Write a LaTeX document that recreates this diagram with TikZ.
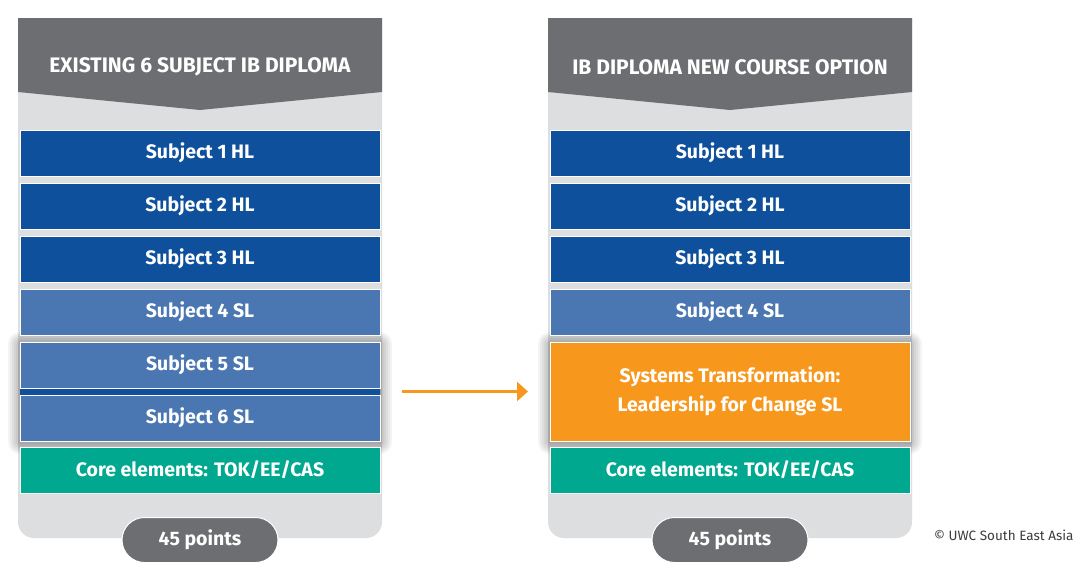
\documentclass[tikz,border=0pt]{standalone}
\usepackage{fontspec}
\setmainfont{Fira Sans}
\usetikzlibrary{positioning,arrows.meta}

\definecolor{hdrgrey}{RGB}{109,110,113}
\definecolor{panelgrey}{RGB}{221,222,224}
\definecolor{ibdark}{RGB}{14,80,155}
\definecolor{iblight}{RGB}{74,118,178}
\definecolor{coreteal}{RGB}{0,168,143}
\definecolor{newcourse}{RGB}{247,152,29}
\definecolor{creditgrey}{RGB}{60,60,60}

\tikzset{
  subj/.style={minimum width=360, minimum height=46, inner sep=0, outer sep=0, text=white,
    draw=white, line width=.8pt, font=\fontsize{19.5}{22}\selectfont\bfseries},
  hl/.style={subj, fill=ibdark},
  sl/.style={subj, fill=iblight},
  core/.style={subj, fill=coreteal},
  headtext/.style={text=white, font=\fontsize{21}{25}\selectfont\bfseries},
  pill/.style={minimum width=156, minimum height=45, rounded corners=22.5,
    fill=hdrgrey, draw=white, line width=1pt, text=white, font=\fontsize{19.5}{22}\selectfont\bfseries},
  flow/.style={draw=newcourse, line width=2.6pt, -{Triangle[length=11pt,width=19pt]}}
}

\begin{document}
\begin{tikzpicture}[x=1pt,y=-1pt]
\useasboundingbox (0,0) rectangle (1087,574);
\fill[white] (0,0) rectangle (1087,574);

% panels and headers
\foreach \cx in {200,730}{
  \fill[panelgrey] (\cx-182,100) -- (\cx-182,18) -- (\cx+182,18) -- (\cx+182,100)
    [rounded corners=16] -- (\cx+182,538) -- (\cx-182,538) [sharp corners] -- (\cx-182,100) -- cycle;
  \fill[hdrgrey] (\cx-182,18) -- (\cx+182,18) -- (\cx+182,92) -- (\cx,110) -- (\cx-182,92) -- cycle;
  % soft shadow round the swapped block
  \foreach \r in {2,4,...,12}
    \fill[black,opacity=.045,rounded corners=\r] (\cx-180-\r,342-\r+2) rectangle (\cx+180+\r,441+\r+1);
}

\node[headtext] (lhead) at (200,67) {EXISTING 6 SUBJECT IB DIPLOMA};
\node[headtext] (rhead) at (730,67) {IB DIPLOMA NEW COURSE OPTION};

% existing diploma
\node[hl] (l1) at (200,153) {Subject 1 HL};
\node[hl, below=7pt of l1] (l2) {Subject 2 HL};
\node[hl, below=7pt of l2] (l3) {Subject 3 HL};
\node[sl, below=7pt of l3] (l4) {Subject 4 SL};
\fill[ibdark] (20,387) rectangle (380,396);
\node[sl, below=7pt of l4] (l5) {Subject 5 SL};
\node[sl, below=7pt of l5] (l6) {Subject 6 SL};
\node[core, below=6pt of l6] (lcore) {Core elements: TOK/EE/CAS};
\node[pill] (lpts) at (200,540) {45 points};

% new course option
\node[hl] (r1) at (730,153) {Subject 1 HL};
\node[hl, below=7pt of r1] (r2) {Subject 2 HL};
\node[hl, below=7pt of r2] (r3) {Subject 3 HL};
\node[sl, below=7pt of r3] (r4) {Subject 4 SL};
\node[subj, fill=newcourse, minimum height=99, align=center, font=\fontsize{19.5}{29}\selectfont\bfseries,
  below=7pt of r4] (rnew) {Systems Transformation:\\Leadership for Change SL};
\node[core, below=6pt of rnew] (rcore) {Core elements: TOK/EE/CAS};
\node[pill] (rpts) at (730,540) {45 points};

\draw[flow] ([xshift=-148pt]rnew.west) -- ([xshift=-22pt]rnew.west);

\node[anchor=east, text=creditgrey, font=\fontsize{13.5}{16}\selectfont] (credit) at (1077,535)
  {© UWC South East Asia};
\end{tikzpicture}
\end{document}
